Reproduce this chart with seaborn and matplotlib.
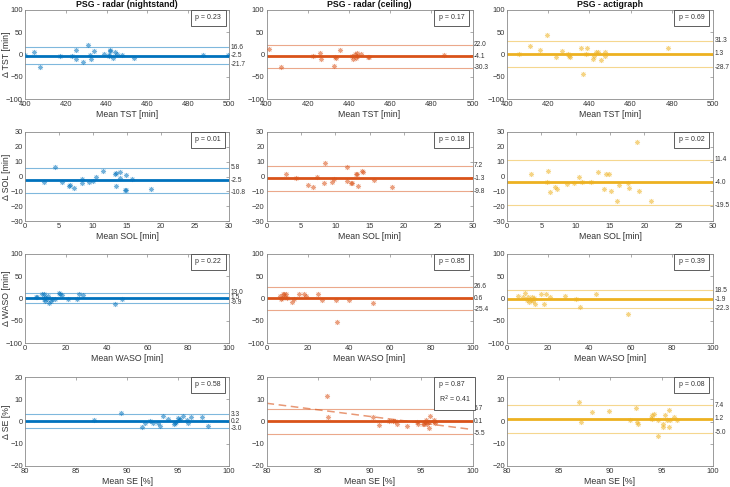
import numpy as np
import pandas as pd
import seaborn as sns
import matplotlib.pyplot as plt
from matplotlib.transforms import blended_transform_factory


# Colunas: PSG - radar (nightstand), PSG - radar (ceiling), PSG - actigraph
titles = ['PSG - radar (nightstand)', 'PSG - radar (ceiling)', 'PSG - actigraph']
colors = ['#0072BD', '#D95319', '#EDB120']
metrics = ['TST', 'SOL', 'WASO', 'SE']
units = ['[min]', '[min]', '[min]', '[%]']

# TST
tst_ns_x = [400.2, 404.2, 407.5, 417.3, 423.0, 425.1, 425.1, 428.2, 430.8, 431.8, 432.3, 433.6,
            438.5, 441.0, 441.5, 441.8, 441.4, 443.0, 444.2, 445.0, 447.5, 453.2, 487.3, 499.7]
tst_ns_y = [0, 6, -28.5, -3, -3, 10, -9, -16, 21, -1.5, -10, 7,
            2, 0, 7, 9, -3, -7, 4.5, 2, 0, -7.5, -1, 0]
tst_ce_x = [401.3, 407.0, 422.7, 426.0, 426.6, 432.8, 433.2, 433.8, 435.6, 441.4, 442.2, 443.0,
            443.4, 443.7, 443.9, 445.8, 449.4, 449.8, 486.0]
tst_ce_y = [12, -28.5, -4, 2.5, -10.5, -25, -5, -7, 11, -3, -11, 2,
            -7, -3, 3, 1, -5, -5, 0]
tst_ac_x = [406.0, 411.0, 416.2, 419.4, 424.0, 426.5, 429.6, 430.3, 430.4, 436.0, 436.9, 438.3,
            438.8, 441.7, 442.4, 443.4, 444.2, 445.8, 447.4, 447.6, 478.3]
tst_ac_y = [2, 20, 9, 44, -4.5, 7, 1.5, -3, -5.5, 15, -43, 1.5,
            14.5, -10, -3, 5, 5.5, -12, 4.5, -3, 14.5]

# SOL
sol_ns_x = [2.8, 4.4, 5.5, 6.4, 6.6, 7.2, 8.4, 8.4, 9.4, 10.0, 10.5, 11.4,
            13.2, 13.4, 13.4, 14.0, 14.0, 14.8, 14.7, 14.9, 15.7, 18.5]
sol_ns_y = [-3.8, 6.1, -3.4, -6.1, -5.4, -7.9, -1.8, -4.5, -3.4, -2.7, -0.5, 3.6,
            1.8, 2.5, -6.5, 3.2, -1.1, 1.1, -9.0, -9.0, -1.6, -8.1]
sol_ce_x = [2.9, 4.3, 6.1, 6.7, 7.4, 8.4, 8.5, 9.5, 9.9, 11.7, 11.7, 12.3,
            12.4, 13.0, 13.2, 13.3, 13.9, 14.0, 15.7, 18.3]
sol_ce_y = [2.0, -0.9, -5.4, -7.0, 0.0, -4.5, 9.3, -3.4, -2.0, 6.5, -3.2, -4.1,
            -4.5, 1.4, 1.8, -6.5, 3.4, 2.7, -2.5, -7.4]
sol_ac_x = [3.5, 5.9, 5.8, 6.2, 7.0, 7.3, 8.7, 9.7, 10.5, 10.9, 12.2, 13.3,
            14.1, 14.4, 14.9, 15.2, 16.0, 16.3, 19.0, 17.6, 17.7, 19.2, 21.0]
sol_ac_y = [1.6, 3.4, -3.8, -10.6, -7.0, -8.1, -5.0, -4.5, -0.5, -3.8, -3.8, 2.7,
            -8.1, 1.4, 1.4, -9.7, -16.5, -5.4, 23.5, -4.3, -7.7, -9.5, -16.3]

# WASO
waso_ns_x = [5.2, 6.0, 8.2, 9.1, 9.5, 9.8, 10.0, 10.6, 11.4, 11.7, 12.6, 13.4,
             14.7, 16.5, 17.1, 18.1, 21.0, 25.4, 26.3, 28.2, 44.2, 47.6]
waso_ns_y = [3.8, 3.8, 10.5, 9.0, -1.5, 3.8, -5.0, -2.0, 6.0, -9.0, -6.0, 0.0,
             -1.5, 12.8, 10.5, 7.5, 0.0, 0.0, 9.0, 8.3, -11.3, -0.8]
waso_ce_x = [6.5, 7.0, 7.4, 7.8, 8.6, 9.2, 9.7, 9.9, 12.3, 13.3, 16.0, 18.1,
             19.0, 24.8, 26.9, 33.5, 34.0, 40.0, 51.8]
waso_ce_y = [5.0, -2.0, 2.0, 9.0, 9.0, 4.0, 9.0, 1.5, -8.0, -1.0, 11.0, 9.0,
             4.5, 10.5, -4.0, -4.0, -52.5, -4.0, -10.0]
waso_ac_x = [5.3, 7.6, 8.7, 9.9, 10.4, 10.8, 11.5, 12.1, 12.5, 13.0, 13.8, 16.5,
             17.9, 18.8, 20.7, 28.2, 33.5, 35.4, 43.2, 58.5]
waso_ac_y = [6.0, 3.8, 12.0, -3.0, 3.0, -7.0, -3.8, 3.0, -4.5, 0.8, -12.8, 11.0,
             -11.3, 9.0, 3.0, 4.5, -1.5, -19.5, 9.0, -33.8]

# SE
se_ns_x = [86.8, 89.4, 91.5, 91.8, 92.3, 92.5, 93.0, 93.2, 93.5, 94.0, 94.6, 94.7,
           94.8, 95.0, 95.1, 95.2, 95.5, 95.9, 96.0, 96.3, 97.4, 97.9]
se_ns_y = [0.5, 4.0, -2.3, -0.6, 0.2, -0.5, -0.6, -2.1, 2.6, 1.2, -1.2, -0.8,
           -0.2, 1.7, 0.8, 1.2, 2.6, 0.8, -0.6, 1.8, 2.0, -2.1]
se_ce_x = [85.9, 86.0, 90.3, 90.9, 91.9, 92.3, 92.5, 92.7, 93.6, 94.6, 94.7, 95.2,
           95.3, 95.4, 95.5, 95.6, 95.8, 95.8, 95.9, 96.3, 96.3, 96.4]
se_ce_y = [11.3, 1.8, 2.1, -1.5, 0.3, 0.3, 0.3, -1.3, -2.2, -0.3, -1.3, -1.3,
           -1.3, -0.3, 0.6, -0.9, 0.0, -2.8, 2.5, 0.6, -0.3, -0.7]
se_ac_x = [87.0, 87.2, 88.3, 89.9, 91.9, 92.5, 92.6, 92.7, 94.0, 94.1, 94.1, 94.3,
           94.7, 94.7, 95.1, 95.1, 95.3, 95.5, 95.7, 95.7, 95.8, 96.2, 96.5]
se_ac_y = [8.9, -0.3, 4.1, 4.8, 0.5, 6.0, -0.2, -1.0, 1.4, 1.1, 2.9, 3.2,
           -6.5, 0.5, -1.2, -2.3, 2.9, 0.6, 5.1, -2.4, 0.6, 1.8, 0.6]

# media e limites de concordancia (LoA), p-valores
bias = [[-2.5, -4.1, 1.3], [-2.5, -1.3, -4.0], [1.5, 0.6, -1.9], [0.2, 0.1, 1.2]]
loa_upper = [[16.6, 22.0, 31.3], [5.8, 7.2, 11.4], [13.0, 26.6, 18.5], [3.3, 5.7, 7.4]]
loa_lower = [[-21.7, -30.3, -28.7], [-10.8, -9.8, -19.5], [-9.9, -25.4, -22.3], [-3.0, -5.5, -5.0]]
p_values = [['0.23', '0.17', '0.69'], ['0.01', '0.18', '0.02'],
            ['0.22', '0.85', '0.39'], ['0.58', '0.87', '0.08']]

# regressao (SE, radar ceiling)
reg_intercept = 55.4
reg_slope = -0.59
reg_r2 = '0.41'

xs = [[tst_ns_x, tst_ce_x, tst_ac_x], [sol_ns_x, sol_ce_x, sol_ac_x],
      [waso_ns_x, waso_ce_x, waso_ac_x], [se_ns_x, se_ce_x, se_ac_x]]
ys = [[tst_ns_y, tst_ce_y, tst_ac_y], [sol_ns_y, sol_ce_y, sol_ac_y],
      [waso_ns_y, waso_ce_y, waso_ac_y], [se_ns_y, se_ce_y, se_ac_y]]

xlims = [(400, 500), (0, 30), (0, 100), (80, 100)]
ylims = [(-100, 100), (-30, 30), (-100, 100), (-20, 20)]
xticks = [np.arange(400, 501, 20), np.arange(0, 31, 5), np.arange(0, 101, 20), np.arange(80, 101, 5)]
yticks = [np.arange(-100, 101, 50), np.arange(-30, 31, 10), np.arange(-100, 101, 50), np.arange(-20, 21, 10)]

sns.set_style('white')
plt.rcParams['font.family'] = ['Liberation Sans', 'DejaVu Sans']

fig = plt.figure(figsize=(7.3, 4.87), dpi=100)

lefts = [25 / 730, 266.5 / 730, 507 / 730]
widths = [204 / 730, 206 / 730, 206 / 730]
bottoms = [1 - 99 / 487, 1 - 221 / 487, 1 - 343 / 487, 1 - 466 / 487]
height = 89 / 487

frame = '#8a8a8a'
txt = '#333333'
asterisk = (8, 2, 0)

for i in range(4):
    for j in range(3):
        ax = fig.add_axes([lefts[j], bottoms[i], widths[j], height])
        c = colors[j]
        df = pd.DataFrame({'x': xs[i][j], 'y': ys[i][j]})

        ax.axhline(loa_upper[i][j], color=c, lw=0.8, alpha=0.5, zorder=1)
        ax.axhline(loa_lower[i][j], color=c, lw=0.8, alpha=0.5, zorder=1)
        ax.axhline(bias[i][j], color=c, lw=2.0, zorder=2)

        sns.scatterplot(data=df, x='x', y='y', marker=asterisk, s=10, color=c,
                        alpha=0.55, edgecolor=c, linewidth=0.6, ax=ax, zorder=3)

        if i == 3 and j == 1:
            ax.axline((0, reg_intercept), slope=reg_slope, color=c, lw=1.1,
                      ls=(0, (5, 3)), alpha=0.6, zorder=2)

        ax.set_xlim(xlims[i])
        ax.set_ylim(ylims[i])
        ax.set_xticks(xticks[i])
        ax.set_yticks(yticks[i])
        ax.tick_params(direction='in', length=2, width=0.5, labelsize=5.4,
                       colors=frame, labelcolor=txt, pad=1.5,
                       top=True, right=True)
        for sp in ax.spines.values():
            sp.set_color(frame)
            sp.set_linewidth(0.6)

        ax.set_xlabel(f'Mean {metrics[i]} {units[i]}', fontsize=6.3, color=txt, labelpad=1.5)
        if j == 0:
            ax.set_ylabel(f'Δ {metrics[i]} {units[i]}', fontsize=6.3, color=txt)
            ax.yaxis.set_label_coords(-0.07, 0.5)
        else:
            ax.set_ylabel('')
        if i == 0:
            ax.set_title(titles[j], fontsize=6.3, fontweight='bold', color='#111111', pad=2)

        # rotulos a direita
        tr = blended_transform_factory(ax.transAxes, ax.transData)
        for v in [loa_upper[i][j], bias[i][j], loa_lower[i][j]]:
            ax.text(1.007, v, f'{v:.1f}', transform=tr, fontsize=4.8, color=txt,
                    ha='left', va='center')

        label = f'p = {p_values[i][j]}'
        if i == 3 and j == 1:
            label += f'\nR$^2$ = {reg_r2}'
        ax.text(0.835, 0.95, label, transform=ax.transAxes, fontsize=5, color=txt,
                ha='left', va='top', linespacing=1.6,
                bbox=dict(boxstyle='square,pad=0.65', fc='white', ec='#444444', lw=0.6))

plt.savefig('out.png', dpi=100)
